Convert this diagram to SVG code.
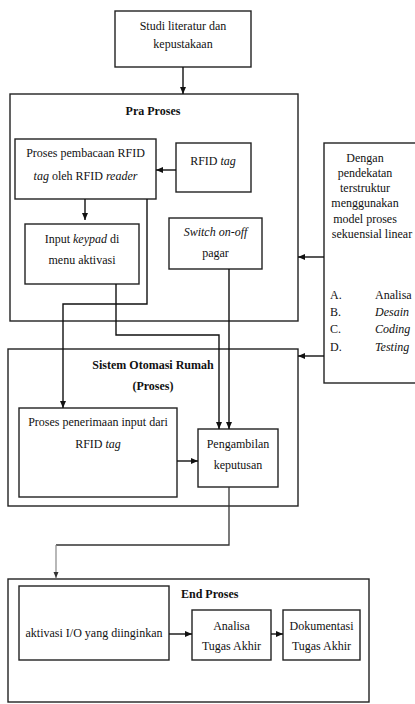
<svg xmlns="http://www.w3.org/2000/svg" width="415" height="704" viewBox="0 0 415 704" font-family="'Liberation Serif', 'Times New Roman', Times, serif">
<defs>
<marker id="ah" markerWidth="7" markerHeight="6" refX="7" refY="3" orient="auto" markerUnits="userSpaceOnUse">
<path d="M0,0 L7,3 L0,6 Z" fill="#111"/>
</marker>
<marker id="ahg" markerWidth="6" markerHeight="6" refX="6" refY="3" orient="auto" markerUnits="userSpaceOnUse">
<path d="M0,0.5 L6,3 L0,5.5 Z" fill="#333"/>
</marker>
<style>
rect{fill:#fff;stroke:#222;stroke-width:1.4}
text{font-family:'Liberation Serif','Times New Roman',Times,serif;font-size:12px;fill:#111;text-anchor:middle}
.b{font-weight:bold}
.i{font-style:italic}
.l{text-anchor:start}
.c{fill:none;stroke:#111;stroke-width:1.4}
.d{fill:none;stroke:#333;stroke-width:1.3}
.g{fill:none;stroke:#888;stroke-width:1.2}
</style>
</defs>
<rect x="0" y="0" width="415" height="704" style="fill:#fff;stroke:none"/>

<g id="studi">
<rect x="115" y="11" width="136" height="56"/>
<text x="183" y="30">Studi literatur dan</text>
<text x="183" y="48">kepustakaan</text>
</g>

<g id="pra-proses">
<rect x="10" y="94" width="288" height="227"/>
<text x="153" y="115" class="b">Pra Proses</text>
</g>

<g id="proses-pembacaan">
<rect x="15" y="139" width="141" height="60"/>
<text x="85.5" y="157">Proses pembacaan RFID</text>
<text x="85.5" y="180"><tspan class="i">tag</tspan> oleh RFID <tspan class="i">reader</tspan></text>
</g>

<g id="rfid-tag">
<rect x="176" y="143" width="75" height="49"/>
<text x="213" y="165">RFID <tspan class="i">tag</tspan></text>
</g>

<g id="input-keypad">
<rect x="25" y="224" width="114" height="60"/>
<text x="82" y="243">Input <tspan class="i">keypad</tspan> di</text>
<text x="82" y="264">menu aktivasi</text>
</g>

<g id="switch">
<rect x="169" y="218" width="93" height="51"/>
<text x="215.5" y="236" class="i">Switch on-off</text>
<text x="215.5" y="257">pagar</text>
</g>

<g id="dengan">
<rect x="324" y="143" width="100" height="240"/>
<text x="365" y="162">Dengan</text>
<text x="365" y="177">pendekatan</text>
<text x="365" y="192">terstruktur</text>
<text x="365" y="207">menggunakan</text>
<text x="365" y="223">model proses</text>
<text x="372" y="238">sekuensial linear</text>
<text x="330" y="299" class="l">A.</text>
<text x="375" y="299" class="l">Analisa</text>
<text x="330" y="316" class="l">B.</text>
<text x="375" y="316" class="l i">Desain</text>
<text x="330" y="333" class="l">C.</text>
<text x="375" y="333" class="l i">Coding</text>
<text x="330" y="351" class="l">D.</text>
<text x="375" y="351" class="l i">Testing</text>
</g>

<g id="sistem">
<rect x="8" y="349" width="290" height="157"/>
<text x="153" y="369" class="b">Sistem Otomasi Rumah</text>
<text x="153" y="390" class="b">(Proses)</text>
</g>

<g id="proses-penerimaan">
<rect x="19" y="408" width="158" height="89"/>
<text x="98" y="426">Proses penerimaan input dari</text>
<text x="98" y="448">RFID <tspan class="i">tag</tspan></text>
</g>

<g id="pengambilan">
<rect x="198" y="429" width="80" height="58"/>
<text x="238" y="448">Pengambilan</text>
<text x="238" y="469">keputusan</text>
</g>

<g id="end-proses">
<rect x="8" y="579" width="361" height="123"/>
<text x="181" y="598" class="b l">End Proses</text>
</g>

<g id="aktivasi">
<rect x="19" y="586" width="150" height="74"/>
<text x="94" y="637">aktivasi I/O yang diinginkan</text>
</g>

<g id="analisa">
<rect x="192" y="610" width="79" height="50"/>
<text x="231.5" y="630">Analisa</text>
<text x="231.5" y="650">Tugas Akhir</text>
</g>

<g id="dokumentasi">
<rect x="283" y="610" width="77" height="50"/>
<text x="321.5" y="630">Dokumentasi</text>
<text x="321.5" y="650">Tugas Akhir</text>
</g>

<g id="connectors">
<path class="c" d="M183,67 V94" marker-end="url(#ah)"/>
<path class="c" d="M176,170 H156" marker-end="url(#ah)"/>
<path class="c" d="M85,199 V220" marker-end="url(#ah)"/>
<path class="c" d="M147,199 V304 H63 V408" marker-end="url(#ah)"/>
<path class="c" d="M116,284 V335 H219 V429" marker-end="url(#ah)"/>
<path class="c" d="M229,269 V429" marker-end="url(#ah)"/>
<path class="c" d="M324,257 H298" marker-end="url(#ah)"/>
<path class="c" d="M324,356 H298" marker-end="url(#ah)"/>
<path class="c" d="M177,461 H198" marker-end="url(#ah)"/>
<path class="d" d="M229,487 V545 H56"/>
<path class="g" d="M56,545 V578" marker-end="url(#ahg)"/>
<path class="c" d="M169,634 H192" marker-end="url(#ah)"/>
<path class="c" d="M271,634 H283" marker-end="url(#ah)"/>
</g>
</svg>
